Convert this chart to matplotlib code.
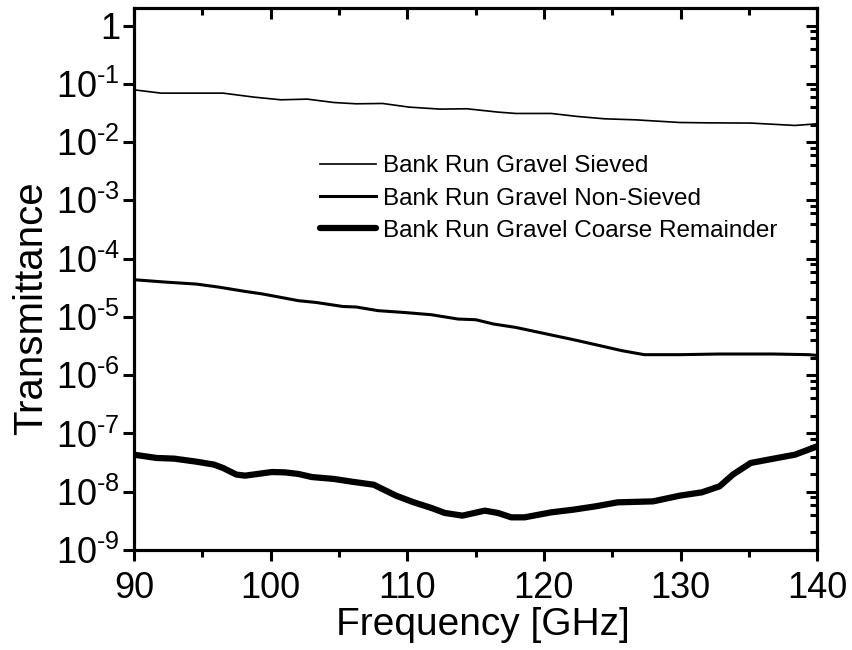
import matplotlib
matplotlib.use('Agg')
import matplotlib.pyplot as plt
from matplotlib.ticker import FixedLocator, LogLocator, NullFormatter, FuncFormatter, MultipleLocator
import numpy as np

# Bank Run Gravel, sieved (thin line)
freq_sieved = [90.0, 91.98, 96.52, 98.79, 100.74, 102.69, 104.63, 106.26, 108.2, 110.15,
               112.42, 114.37, 116.64, 117.94, 120.53, 122.48, 124.43, 126.7, 129.94,
               131.89, 135.14, 138.38, 140.0]
trans_sieved = [0.0789, 0.0692, 0.0692, 0.0591, 0.0532, 0.0546, 0.0478, 0.0454, 0.046, 0.0398,
                0.0368, 0.0373, 0.0327, 0.031, 0.031, 0.0275, 0.0251, 0.0241, 0.0217,
                0.0214, 0.0212, 0.0193, 0.0206]

# non-sieved (medium line)
freq_nonsieved = [90.0, 92.31, 94.58, 96.2, 98.14, 99.44, 102.04, 103.34, 105.29, 106.26,
                  107.88, 109.83, 111.77, 113.72, 115.02, 116.32, 117.94, 120.21, 122.16,
                  124.11, 125.73, 127.35, 129.94, 132.86, 136.76, 139.35, 140.0]
trans_nonsieved = [4.35e-5, 3.96e-5, 3.66e-5, 3.25e-5, 2.74e-5, 2.47e-5, 1.90e-5, 1.77e-5, 1.51e-5, 1.48e-5,
                   1.28e-5, 1.19e-5, 1.09e-5, 9.2e-6, 8.95e-6, 7.55e-6, 6.61e-6, 5.09e-6, 4.07e-6,
                   3.21e-6, 2.63e-6, 2.25e-6, 2.25e-6, 2.31e-6, 2.31e-6, 2.25e-6, 2.19e-6]

# coarse remainder (thick line)
freq_coarse = [90.0, 91.65, 92.95, 94.58, 95.87, 96.52, 97.5, 98.14, 100.09, 101.06,
               102.04, 103.01, 104.63, 105.93, 107.55, 109.18, 110.48, 111.77, 112.75,
               114.04, 115.67, 116.64, 117.61, 118.59, 120.53, 122.16, 123.78, 125.4,
               127.99, 129.94, 131.56, 132.86, 133.83, 135.14, 136.43, 138.38, 140.0]
trans_coarse = [4.33e-8, 3.80e-8, 3.70e-8, 3.28e-8, 2.92e-8, 2.56e-8, 1.97e-8, 1.89e-8, 2.18e-8, 2.15e-8,
                2.02e-8, 1.79e-8, 1.66e-8, 1.49e-8, 1.32e-8, 8.57e-9, 6.58e-9, 5.27e-9, 4.33e-9,
                3.89e-9, 4.74e-9, 4.33e-9, 3.64e-9, 3.64e-9, 4.43e-9, 4.93e-9, 5.62e-9, 6.58e-9,
                6.84e-9, 8.57e-9, 9.77e-9, 1.24e-8, 1.97e-8, 3.12e-8, 3.56e-8, 4.33e-8, 6.01e-8]

labels = ['Bank Run Gravel Sieved', 'Bank Run Gravel Non-Sieved', 'Bank Run Gravel Coarse Remainder']

plt.rcParams['font.family'] = ['Liberation Sans', 'DejaVu Sans']
plt.rcParams['mathtext.fontset'] = 'custom'
plt.rcParams['mathtext.rm'] = 'Liberation Sans'
plt.rcParams['mathtext.it'] = 'Liberation Sans'
plt.rcParams['mathtext.default'] = 'regular'

X_MIN, X_MAX = 90, 140
Y_MIN, Y_MAX = 1e-9, 2.0
SPINE_W = 2.2
MAJ_LEN, MIN_LEN = 8, 5

fig = plt.figure(figsize=(8.53, 6.5), dpi=100)
ax = fig.add_axes([0.157, 0.1538, 0.801, 0.8339])

ax.plot(freq_sieved, trans_sieved, color='black', lw=1.2, label=labels[0])
ax.plot(freq_nonsieved, trans_nonsieved, color='black', lw=2.2, label=labels[1])
ax.plot(freq_coarse, trans_coarse, color='black', lw=4.5, label=labels[2],
        solid_capstyle='round', solid_joinstyle='round')

ax.set_yscale('log')
ax.set_xlim(X_MIN, X_MAX)
ax.set_ylim(Y_MIN, Y_MAX)


def log_fmt(v, pos):
    e = int(round(np.log10(v)))
    if e == 0:
        return '1'
    # plain hyphen like the original, not the wide math minus
    return r'$\mathregular{10^{\text{-}%d}}$' % (-e)


ax.xaxis.set_major_locator(MultipleLocator(10))
ax.xaxis.set_minor_locator(MultipleLocator(5))
ax.yaxis.set_major_locator(FixedLocator([10.0 ** e for e in range(-9, 1)]))
ax.yaxis.set_minor_locator(LogLocator(base=10, subs=(2, 4, 6, 8)))
ax.yaxis.set_major_formatter(FuncFormatter(log_fmt))
ax.yaxis.set_minor_formatter(NullFormatter())

ax.tick_params(which='both', direction='out', width=SPINE_W, labelsize=26)
ax.tick_params(which='major', length=MAJ_LEN)
ax.tick_params(which='minor', length=MIN_LEN)
ax.tick_params(axis='x', pad=7)
ax.tick_params(axis='y', pad=2)

for s in ax.spines.values():
    s.set_linewidth(SPINE_W)

# mirrored ticks on top and right, pointing inward
ax_top = ax.twiny()
ax_top.set_xlim(X_MIN, X_MAX)
ax_top.xaxis.set_major_locator(MultipleLocator(10))
ax_top.xaxis.set_minor_locator(MultipleLocator(5))
ax_top.tick_params(which='both', direction='in', width=SPINE_W, labeltop=False)
ax_top.tick_params(which='major', length=MAJ_LEN)
ax_top.tick_params(which='minor', length=MIN_LEN)

ax_right = ax.twinx()
ax_right.set_yscale('log')
ax_right.set_ylim(Y_MIN, Y_MAX)
ax_right.yaxis.set_major_locator(FixedLocator([10.0 ** e for e in range(-9, 1)]))
ax_right.yaxis.set_minor_locator(LogLocator(base=10, subs=(2, 4, 6, 8)))
ax_right.yaxis.set_minor_formatter(NullFormatter())
ax_right.tick_params(which='both', direction='in', width=SPINE_W, labelright=False)
ax_right.tick_params(which='major', length=MAJ_LEN)
ax_right.tick_params(which='minor', length=MIN_LEN)

for a in (ax_top, ax_right):
    for s in a.spines.values():
        s.set_linewidth(SPINE_W)

ax.set_xlabel('Frequency [GHz]', fontsize=28)
ax.set_ylabel('Transmittance', fontsize=29, va='center')
ax.xaxis.set_label_coords(0.51, -0.105)
ax.yaxis.set_label_coords(-0.151, 0.4456)

ax.legend(loc='upper left', bbox_to_anchor=(0.2723, 0.728), frameon=False,
          fontsize=17.5, handlelength=2.3, handletextpad=0.3, borderpad=0,
          borderaxespad=0, labelspacing=0.42)

plt.savefig('out.png', dpi=100)
plt.close()
